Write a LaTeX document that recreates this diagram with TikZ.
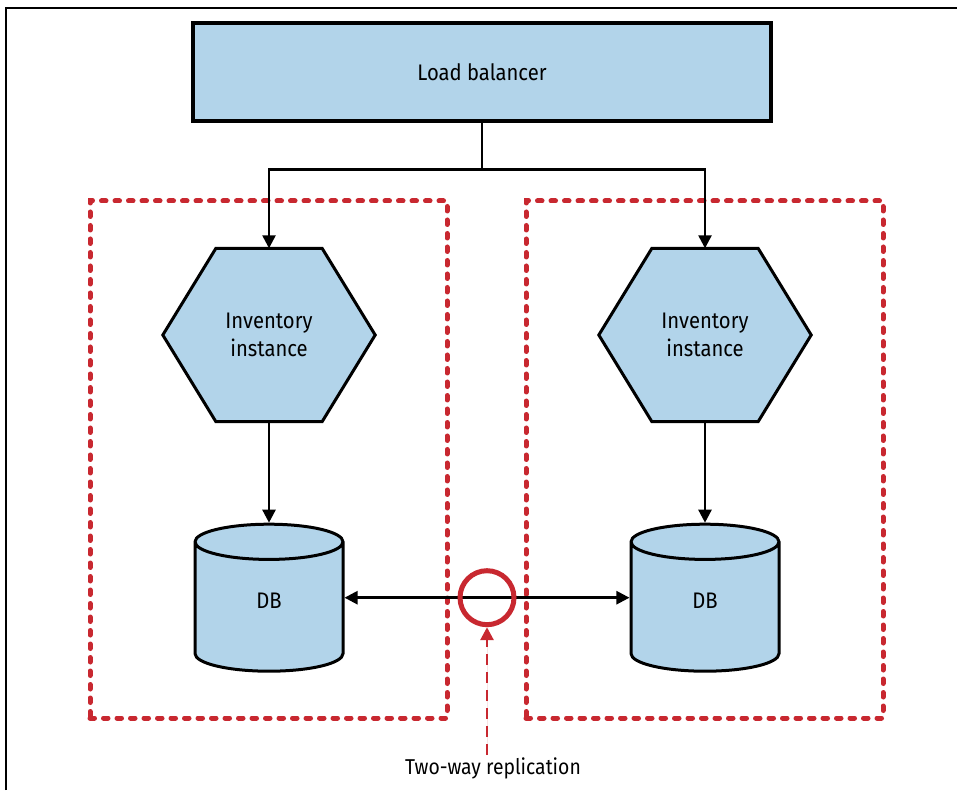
\documentclass[tikz,border=0pt]{standalone}
\usepackage{fontspec}
\setmainfont{Fira Sans}[FakeStretch=0.9]
\usetikzlibrary{positioning, arrows.meta, calc, shapes.geometric, backgrounds}

\definecolor{lbblue}{RGB}{178,212,234}
\definecolor{zonered}{RGB}{200,40,48}

\begin{document}
\begin{tikzpicture}[
    x=1pt, y=1pt,
    lbbox/.style={rectangle, draw=black, fill=lbblue, line width=3.5pt, minimum width=578pt, minimum height=98pt, font=\fontsize{22.5}{28}\selectfont},
    hexnode/.style={rectangle, draw=none, minimum width=212pt, minimum height=173pt, align=center, font=\fontsize{22.5}{28}\selectfont},
    hexline/.style={draw=black, fill=lbblue, line width=3pt, line join=miter},
    dbnode/.style={cylinder, shape border rotate=90, aspect=1.1, draw=black, fill=lbblue, line width=3pt, minimum width=148pt, minimum height=147pt, text depth=18pt, font=\fontsize{22.5}{28}\selectfont},
    zone/.style={rectangle, draw=zonered, line width=5pt, line cap=round, dash pattern=on 4.5pt off 9pt, minimum width=357pt, minimum height=517pt},
    ring/.style={circle, draw=zonered, line width=5pt, minimum size=54pt, inner sep=0pt},
    arr/.style={-{Triangle[length=13pt, width=13pt]}, line width=2.5pt},
    dblarr/.style={{Triangle[length=13pt, width=13pt]}-{Triangle[length=13pt, width=13pt]}, line width=2.5pt},
    redarr/.style={-{Triangle[length=13pt, width=13pt]}, draw=zonered, fill=zonered, line width=2.8pt, dash pattern=on 11pt off 7pt},
]
\useasboundingbox (0,0) rectangle (957,790);

% frame
\draw [line width=2pt] (6,0) |- (957,782);

% availability zones
\node [zone] (zoneL) at (268.5,330.5) {};
\node [zone] (zoneR) at (704.5,330.5) {};

\node [lbbox] (lb) at (482,718) {Load balancer};

\node [hexnode] (instL) at (269,455) {Inventory\\instance};
\node [hexnode] (instR) at (705,455) {Inventory\\instance};

\node [dbnode, below=101pt of instL] (dbL) {DB};
\node [dbnode, below=101pt of instR] (dbR) {DB};

\begin{scope}[on background layer]
  \foreach \n in {instL, instR}
    \draw [hexline] (\n.west) -- ($(\n.north west)!0.25!(\n.north east)$)
      -- ($(\n.north west)!0.75!(\n.north east)$) -- (\n.east)
      -- ($(\n.south west)!0.75!(\n.south east)$)
      -- ($(\n.south west)!0.25!(\n.south east)$) -- cycle;
\end{scope}

\draw [arr] (lb.south) -- ++(0,-47) -| (instL.north);
\draw [arr] (lb.south) -- ++(0,-47) -| (instR.north);
\draw [arr] (instL.south) -- (dbL.north);
\draw [arr] (instR.south) -- (dbR.north);
\draw [dblarr] (dbL.shape center -| dbL.east) -- (dbR.shape center -| dbR.west);

\node [ring] (repl) at ($(dbL.shape center)!0.5!(dbR.shape center)$) {};

\node [font=\fontsize{21.5}{28}\selectfont, inner sep=2pt] (repllabel) at (493,22) {Two-way replication};
\draw [redarr] (repllabel.north -| repl.south) -- (repl.south);

\end{tikzpicture}
\end{document}
